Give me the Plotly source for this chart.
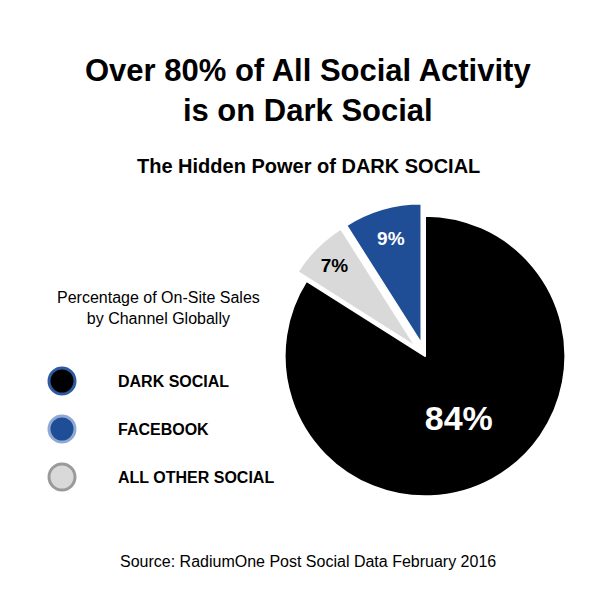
import plotly.graph_objects as go

channels = ["DARK SOCIAL", "ALL OTHER SOCIAL", "FACEBOOK"]
shares = [84, 7, 9]
slice_colors = ["#000000", "#d9d9d9", "#1f4e96"]
text_colors = ["#ffffff", "#000000", "#ffffff"]
text_sizes = [34, 19, 19]
pulls = [0, 0.09, 0.09]

legend_names = ["DARK SOCIAL", "FACEBOOK", "ALL OTHER SOCIAL"]
legend_fill = ["#000000", "#1f4e96", "#d9d9d9"]
legend_line = ["#2d5aa0", "#8fa9d4", "#9a9a9a"]

fig = go.Figure(go.Pie(
    labels=channels, values=shares, sort=False, direction="clockwise", rotation=0,
    pull=pulls, marker=dict(colors=slice_colors, line=dict(color="white", width=2)),
    texttemplate="<b>%{value}%</b>", textposition="inside", insidetextorientation="horizontal",
    insidetextfont=dict(color=text_colors, size=text_sizes, family="Liberation Sans"),
    domain=dict(x=[0.44, 0.95], y=[0.165, 0.675]), showlegend=False, hoverinfo="label+percent",
))


def note(x, y, text, size, xanchor="center"):
    return dict(x=x, y=y, xref="paper", yref="paper", xanchor=xanchor, yanchor="middle",
                text=text, font=dict(size=size), showarrow=False)


ann = [
    note(0.5, 1 - 82 / 600, "<b>Over 80% of All Social Activity<br>is on Dark Social</b>", 31),
    note(0.5, 1 - 158 / 600, "<b>The Hidden Power of DARK SOCIAL</b>", 20),
    note(0.25, 1 - 300 / 600, "Percentage of On-Site Sales<br>by Channel Globally", 16),
    note(0.5, 1 - 553 / 600, "Source: RadiumOne Post Social Data February 2016", 16),
]
shapes = []
for i, name in enumerate(legend_names):
    cy = 1 - (373 + 48 * i) / 600
    shapes.append(dict(type="circle", xref="paper", yref="paper",
                       x0=(54 - 13) / 600, x1=(54 + 13) / 600, y0=cy - 13 / 600, y1=cy + 13 / 600,
                       fillcolor=legend_fill[i], line=dict(color=legend_line[i], width=3)))
    ann.append(note(108 / 600, cy, "<b>" + name + "</b>", 16, xanchor="left"))

fig.update_layout(
    width=600, height=600, margin=dict(l=0, r=0, t=0, b=0),
    paper_bgcolor="white", plot_bgcolor="white",
    font=dict(family="Liberation Sans", color="black"),
    annotations=ann, shapes=shapes,
)
fig.write_html("out.html")
